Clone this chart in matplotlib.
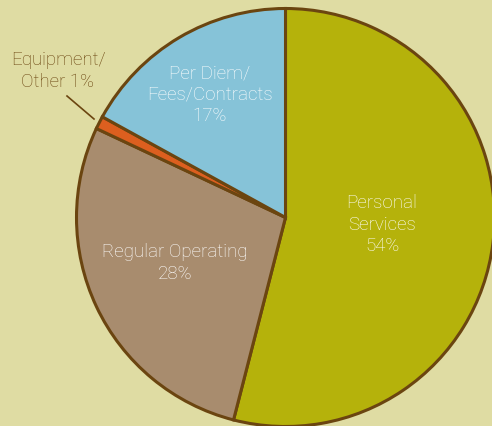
import matplotlib.pyplot as plt
from matplotlib import font_manager

labels = ['Personal\nServices\n54%', 'Regular Operating\n28%', 'Equipment/\nOther 1%', 'Per Diem/\nFees/Contracts\n17%']
shares = [54, 28, 1, 17]
colors = ['#b5b20b', '#a88c6e', '#dc5f1f', '#86c3d8']

bg = '#dfdca3'
edge = '#6b4510'

fonts = sorted({(f.name, f.weight, f.stretch) for f in font_manager.fontManager.ttflist
                if f.name in ('Roboto', 'Liberation Sans Narrow', 'Open Sans', 'Lato', 'Inter')})
print(fonts)

W, H = 492, 427
cx, cy, r = 285.5, 218.5, 209.0

fig = plt.figure(figsize=(W / 100, H / 100), dpi=100, facecolor=bg)
ax = fig.add_axes([0, 0, 1, 1])
ax.set_facecolor(bg)

wedges, _ = ax.pie(shares, colors=colors, startangle=90, counterclock=False,
                   radius=1.0, wedgeprops=dict(edgecolor=edge, linewidth=2.2))

ax.set_xlim(-cx / r, (W - cx) / r)
ax.set_ylim(-(H - cy) / r, cy / r)
ax.set_aspect('auto')
ax.axis('off')


def px(x, y):
    return (x - cx) / r, (cy - y) / r


txt = dict(ha='center', va='center', fontsize=13.5, family='Roboto', fontweight='light',
           linespacing=1.25)
ax.text(*px(382, 225), labels[0], color='white', **txt)
ax.text(*px(175, 263), labels[1], color='white', **txt)
ax.text(*px(210, 95), labels[3], color='white', **txt)
ax.text(*px(58, 71), labels[2], color=edge, **txt)

# leader line for the small slice
x0, y0 = px(67, 97)
x1, y1 = px(94, 120)
ax.plot([x0, x1], [y0, y1], color=edge, linewidth=1.2)

fig.savefig('out.png', dpi=100, facecolor=bg)
